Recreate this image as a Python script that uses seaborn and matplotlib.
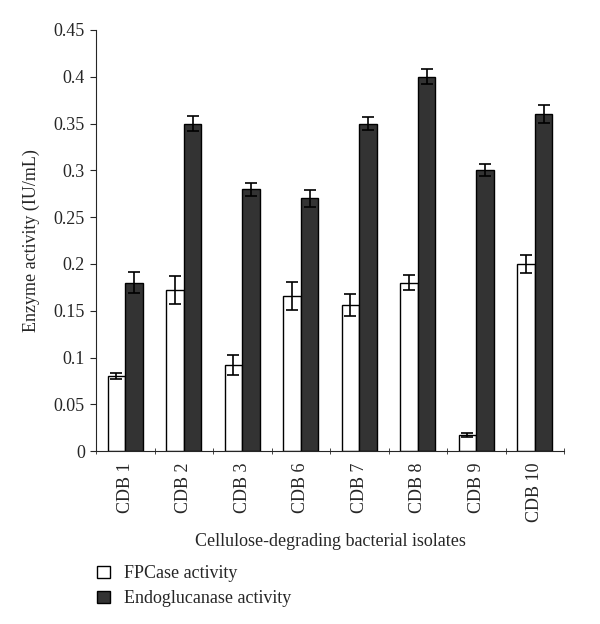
import numpy as np
import pandas as pd
import matplotlib
matplotlib.use("Agg")
import matplotlib.pyplot as plt
import seaborn as sns
from matplotlib.patches import Patch

isolates = ["CDB 1", "CDB 2", "CDB 3", "CDB 6", "CDB 7", "CDB 8", "CDB 9", "CDB 10"]
fpcase = [0.080, 0.172, 0.092, 0.166, 0.156, 0.180, 0.0175, 0.200]
fpcase_err = [0.003, 0.015, 0.011, 0.015, 0.012, 0.008, 0.002, 0.0095]
endo = [0.180, 0.350, 0.280, 0.270, 0.350, 0.400, 0.300, 0.360]
endo_err = [0.011, 0.008, 0.007, 0.009, 0.007, 0.008, 0.0065, 0.0097]
series = ["FPCase activity", "Endoglucanase activity"]

df = pd.DataFrame({
    "isolate": isolates * 2,
    "activity": fpcase + endo,
    "err": fpcase_err + endo_err,
    "series": [series[0]] * len(isolates) + [series[1]] * len(isolates),
})

sns.set_style("ticks")
plt.rcParams["font.family"] = ["Liberation Serif", "DejaVu Serif"]
plt.rcParams["font.size"] = 13

fig = plt.figure(figsize=(6, 6.24), dpi=100)
ax = fig.add_axes([0.16, 0.277, 0.78, 0.675])

colors = {series[0]: "white", series[1]: "#333333"}
sns.barplot(data=df, x="isolate", y="activity", hue="series", palette=colors,
            hue_order=series, order=isolates, width=0.6, errorbar=None,
            edgecolor="black", linewidth=1, legend=False, ax=ax)

for cont, errs in zip(ax.containers, [fpcase_err, endo_err]):
    xs = [p.get_x() + p.get_width() / 2 for p in cont.patches]
    hs = [p.get_height() for p in cont.patches]
    ax.errorbar(xs, hs, yerr=errs, fmt="none", ecolor="black",
                elinewidth=1.2, capsize=4, capthick=1.2)

ax.set_xlim(-0.5, len(isolates) - 0.5)
ax.set_ylim(0, 0.45)
ax.set_yticks(np.arange(0, 0.451, 0.05))
ax.set_yticklabels(["0"] + [f"{v:g}" for v in np.arange(0.05, 0.451, 0.05)])
ax.set_xticks(range(len(isolates)))
ax.set_xticklabels(isolates, rotation=90)
ax.tick_params(axis="x", length=0, pad=8, labelsize=13)
ax.set_xticks(np.arange(-0.5, len(isolates), 1), minor=True)
ax.tick_params(axis="x", which="minor", length=4, direction="inout")
ax.tick_params(axis="y", length=4, direction="out", labelsize=13, pad=4)
sns.despine(ax=ax)
ax.set_xlabel("Cellulose-degrading bacterial isolates", fontsize=13, labelpad=8)
ax.set_ylabel("Enzyme activity (IU/mL)", fontsize=13, labelpad=10)

handles = [Patch(facecolor=colors[s], edgecolor="black", label=s) for s in series]
fig.legend(handles=handles, loc="upper left", bbox_to_anchor=(0.135, 0.12),
           frameon=False, fontsize=13, handlelength=0.7, handleheight=0.7,
           labelspacing=0.45, handletextpad=0.8)

fig.savefig("out.png", dpi=100)
